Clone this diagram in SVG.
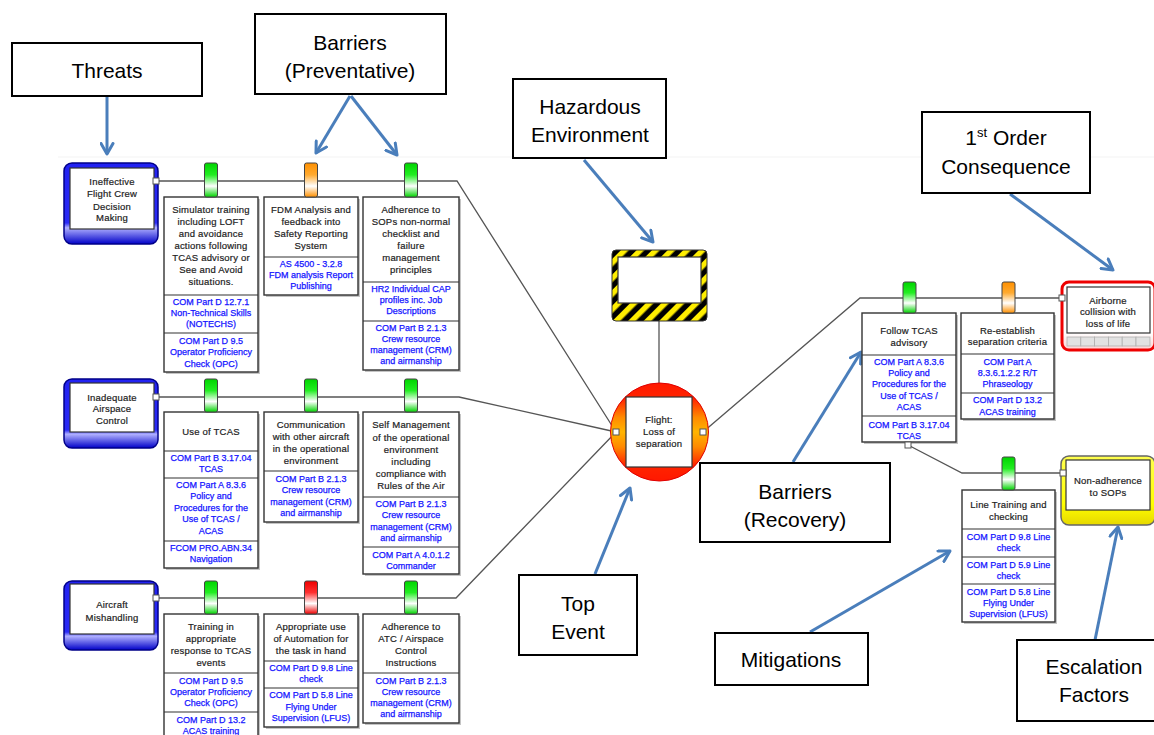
<svg xmlns="http://www.w3.org/2000/svg" width="1154" height="735" viewBox="0 0 1154 735">
<defs>
<style>
.cb{fill:#fff;stroke:#000;stroke-width:2}
.ct{font-family:"Liberation Sans",Arial,sans-serif;font-size:21px;text-anchor:middle;fill:#000}
.ar{stroke:#4a7ebb;stroke-width:3;fill:none;marker-end:url(#ah)}
.bx{fill:#fff;stroke:#333;stroke-width:1.4}
.sh{fill:#c4c4c4}
.dv{stroke:#333;stroke-width:1.2}
.tt{font-family:"Liberation Sans",Arial,sans-serif;font-size:9.5px;text-anchor:middle;fill:#222;stroke:#222;stroke-width:0.2;letter-spacing:0.2px}
.bt{font-family:"Liberation Sans",Arial,sans-serif;font-size:9px;text-anchor:middle;fill:#1414ff;stroke:#1414ff;stroke-width:0.25}
.ln{stroke:#555;stroke-width:1.3;fill:none}
.cn{fill:#fff;stroke:#555;stroke-width:1}
.ind{stroke:#444;stroke-width:1}
.thr{fill:url(#blug);stroke:#000088;stroke-width:1.5}
.inw{fill:#fff;stroke:#333;stroke-width:1.2}
</style>
<marker id="ah" markerUnits="userSpaceOnUse" markerWidth="15" markerHeight="15" viewBox="0 0 10 10" refX="8" refY="5" orient="auto">
<path d="M1,1 L8,5 L1,9" fill="none" stroke="#4a7ebb" stroke-width="2" stroke-linecap="round" stroke-linejoin="round"/>
</marker>
<linearGradient id="gG" x1="0" y1="0" x2="0" y2="1"><stop offset="0" stop-color="#00d400"/><stop offset="0.35" stop-color="#22ee22"/><stop offset="0.68" stop-color="#ffffff"/><stop offset="1" stop-color="#00d400"/></linearGradient>
<linearGradient id="gO" x1="0" y1="0" x2="0" y2="1"><stop offset="0" stop-color="#ff9000"/><stop offset="0.35" stop-color="#ffaa30"/><stop offset="0.68" stop-color="#ffffff"/><stop offset="1" stop-color="#ff9000"/></linearGradient>
<linearGradient id="gR" x1="0" y1="0" x2="0" y2="1"><stop offset="0" stop-color="#ee0000"/><stop offset="0.35" stop-color="#ff3030"/><stop offset="0.68" stop-color="#ffffff"/><stop offset="1" stop-color="#ee0000"/></linearGradient>
<linearGradient id="blug" x1="0" y1="0" x2="0" y2="1"><stop offset="0" stop-color="#2222f2"/><stop offset="0.74" stop-color="#2a2af6"/><stop offset="0.8" stop-color="#b0b0ff"/><stop offset="1" stop-color="#0000c8"/></linearGradient>
<linearGradient id="teg" x1="0" y1="0" x2="0" y2="1"><stop offset="0" stop-color="#ff1800"/><stop offset="0.16" stop-color="#ff2400"/><stop offset="0.35" stop-color="#ff8a00"/><stop offset="0.5" stop-color="#ffb400"/><stop offset="0.65" stop-color="#ff8a00"/><stop offset="0.84" stop-color="#ff2400"/><stop offset="1" stop-color="#ff1800"/></linearGradient>
<linearGradient id="yelg" x1="0" y1="0" x2="0" y2="1"><stop offset="0" stop-color="#ffff50"/><stop offset="0.7" stop-color="#ffff00"/><stop offset="1" stop-color="#e6d800"/></linearGradient>
<linearGradient id="redg" x1="0" y1="0" x2="0" y2="1"><stop offset="0" stop-color="#ffffff"/><stop offset="0.75" stop-color="#ffffff"/><stop offset="1" stop-color="#ffd0d0"/></linearGradient>
<pattern id="haz" patternUnits="userSpaceOnUse" width="11" height="11" patternTransform="rotate(45)"><rect width="11" height="11" fill="#000"/><rect width="5.5" height="11" fill="#ffee00"/></pattern>
</defs>
<rect width="1154" height="735" fill="#fff"/>
<line x1="58" y1="157" x2="1154" y2="157" stroke="#f3f3f3" stroke-width="1"/>

<!-- connectors -->
<g id="connectors">
<path class="ln" d="M158,181 H457 L616,432"/>
<path class="ln" d="M158,397 H459 L616,432"/>
<path class="ln" d="M158,598 H456 L616,432"/>
<path class="ln" d="M703,432 L860,298 H1062"/>
<path class="ln" d="M908,445 L962,473 H1062"/>
<path class="ln" d="M659,321 V384"/>
<path class="ar" d="M107,96 L107,154"/>
<path class="ar" d="M350,96 L316,153"/>
<path class="ar" d="M351,96 L397,155"/>
<path class="ar" d="M584,160 L653,242"/>
<path class="ar" d="M1010,194 L1113,270"/>
<path class="ar" d="M793,462 L861,352"/>
<path class="ar" d="M595,574 L630,488"/>
<path class="ar" d="M810,632 L950,551"/>
<path class="ar" d="M1095,640 L1118,527"/>
</g>

<!-- callouts -->
<g id="callout-threats"><rect class="cb" x="12" y="43" width="190" height="53"/><text class="ct" x="107" y="77.5">Threats</text></g>
<g id="callout-barriers-prev"><rect class="cb" x="255" y="14" width="191" height="80"/><text class="ct" x="350" y="50">Barriers</text><text class="ct" x="350" y="78">(Preventative)</text></g>
<g id="callout-hazard"><rect class="cb" x="513" y="79" width="153" height="79"/><text class="ct" x="590" y="114">Hazardous</text><text class="ct" x="590" y="142">Environment</text></g>
<g id="callout-consequence"><rect class="cb" x="922" y="112" width="168" height="81"/><text class="ct" x="1006" y="145">1<tspan dy="-8" font-size="13">st</tspan><tspan dy="8"> Order</tspan></text><text class="ct" x="1006" y="174">Consequence</text></g>
<g id="callout-barriers-rec"><rect class="cb" x="700" y="463" width="190" height="79"/><text class="ct" x="795" y="499">Barriers</text><text class="ct" x="795" y="527">(Recovery)</text></g>
<g id="callout-top-event"><rect class="cb" x="519" y="575" width="118" height="80"/><text class="ct" x="578" y="611">Top</text><text class="ct" x="578" y="639">Event</text></g>
<g id="callout-mitigations"><rect class="cb" x="715" y="633" width="153" height="52"/><text class="ct" x="791" y="667">Mitigations</text></g>
<g id="callout-escalation"><rect class="cb" x="1017" y="640" width="150" height="81"/><text class="ct" x="1094" y="674">Escalation</text><text class="ct" x="1094" y="702">Factors</text></g>

<!-- threats -->
<g id="threat-1"><rect class="thr" x="64" y="163" width="94" height="81" rx="8"/><rect class="inw" x="70" y="168" width="84" height="61"/>
<text class="tt" x="112" y="185">Ineffective</text><text class="tt" x="112" y="197">Flight Crew</text><text class="tt" x="112" y="209.5">Decision</text><text class="tt" x="112" y="221">Making</text>
<rect class="cn" x="153" y="178" width="6" height="6"/></g>
<g id="threat-2"><rect class="thr" x="64" y="379" width="94" height="69" rx="8"/><rect class="inw" x="70" y="383" width="84" height="49"/>
<text class="tt" x="112" y="401">Inadequate</text><text class="tt" x="112" y="412">Airspace</text><text class="tt" x="112" y="423.5">Control</text>
<rect class="cn" x="153" y="394" width="6" height="6"/></g>
<g id="threat-3"><rect class="thr" x="64" y="581" width="94" height="69" rx="8"/><rect class="inw" x="70" y="584" width="84" height="50"/>
<text class="tt" x="112" y="608">Aircraft</text><text class="tt" x="112" y="621">Mishandling</text>
<rect class="cn" x="153" y="595" width="6" height="6"/></g>

<!-- row 1 barriers -->
<g id="barrier-r1c1"><rect class="sh" x="166" y="199" width="94" height="175"/><rect class="bx" x="164" y="197" width="94" height="175"/>
<line class="dv" x1="164" y1="295" x2="258" y2="295"/><line class="dv" x1="164" y1="333" x2="258" y2="333"/>
<text class="tt" x="211" y="213">Simulator training</text><text class="tt" x="211" y="225">including LOFT</text><text class="tt" x="211" y="237">and avoidance</text><text class="tt" x="211" y="249">actions following</text><text class="tt" x="211" y="261">TCAS advisory or</text><text class="tt" x="211" y="273">See and Avoid</text><text class="tt" x="211" y="285">situations.</text>
<text class="bt" x="211" y="305">COM Part D 12.7.1</text><text class="bt" x="211" y="316">Non-Technical Skills</text><text class="bt" x="211" y="327">(NOTECHS)</text>
<text class="bt" x="211" y="344">COM Part D 9.5</text><text class="bt" x="211" y="355">Operator Proficiency</text><text class="bt" x="211" y="367">Check (OPC)</text>
<rect class="ind" x="204.5" y="163" width="13" height="34" rx="2" fill="url(#gG)"/></g>
<g id="barrier-r1c2"><rect class="sh" x="266" y="199" width="94" height="98"/><rect class="bx" x="264" y="197" width="94" height="98"/>
<line class="dv" x1="264" y1="257" x2="358" y2="257"/>
<text class="tt" x="311" y="213">FDM Analysis and</text><text class="tt" x="311" y="225">feedback into</text><text class="tt" x="311" y="237">Safety Reporting</text><text class="tt" x="311" y="249">System</text>
<text class="bt" x="311" y="267">AS 4500 - 3.2.8</text><text class="bt" x="311" y="278">FDM analysis Report</text><text class="bt" x="311" y="289">Publishing</text>
<rect class="ind" x="304.5" y="163" width="13" height="34" rx="2" fill="url(#gO)"/></g>
<g id="barrier-r1c3"><rect class="sh" x="365" y="199" width="96" height="173"/><rect class="bx" x="363" y="197" width="96" height="173"/>
<line class="dv" x1="363" y1="282" x2="459" y2="282"/><line class="dv" x1="363" y1="321" x2="459" y2="321"/>
<text class="tt" x="411" y="213">Adherence to</text><text class="tt" x="411" y="225">SOPs non-normal</text><text class="tt" x="411" y="237">checklist and</text><text class="tt" x="411" y="249">failure</text><text class="tt" x="411" y="261">management</text><text class="tt" x="411" y="273">principles</text>
<text class="bt" x="411" y="292">HR2 Individual CAP</text><text class="bt" x="411" y="303">profiles inc. Job</text><text class="bt" x="411" y="314">Descriptions</text>
<text class="bt" x="411" y="331">COM Part B 2.1.3</text><text class="bt" x="411" y="342">Crew resource</text><text class="bt" x="411" y="353">management (CRM)</text><text class="bt" x="411" y="364">and airmanship</text>
<rect class="ind" x="404.5" y="163" width="13" height="34" rx="2" fill="url(#gG)"/></g>

<!-- row 2 barriers -->
<g id="barrier-r2c1"><rect class="sh" x="166" y="414" width="94" height="156"/><rect class="bx" x="164" y="412" width="94" height="156"/>
<line class="dv" x1="164" y1="451" x2="258" y2="451"/><line class="dv" x1="164" y1="478" x2="258" y2="478"/><line class="dv" x1="164" y1="541" x2="258" y2="541"/>
<text class="tt" x="211" y="435">Use of TCAS</text>
<text class="bt" x="211" y="461">COM Part B 3.17.04</text><text class="bt" x="211" y="472">TCAS</text>
<text class="bt" x="211" y="488">COM Part A 8.3.6</text><text class="bt" x="211" y="499">Policy and</text><text class="bt" x="211" y="510.5">Procedures for the</text><text class="bt" x="211" y="522">Use of TCAS /</text><text class="bt" x="211" y="533.5">ACAS</text>
<text class="bt" x="211" y="551">FCOM PRO.ABN.34</text><text class="bt" x="211" y="562">Navigation</text>
<rect class="ind" x="204.5" y="379" width="13" height="33" rx="2" fill="url(#gG)"/></g>
<g id="barrier-r2c2"><rect class="sh" x="266" y="414" width="94" height="110"/><rect class="bx" x="264" y="412" width="94" height="110"/>
<line class="dv" x1="264" y1="471" x2="358" y2="471"/>
<text class="tt" x="311" y="428">Communication</text><text class="tt" x="311" y="440">with other aircraft</text><text class="tt" x="311" y="452">in the operational</text><text class="tt" x="311" y="464">environment</text>
<text class="bt" x="311" y="482">COM Part B 2.1.3</text><text class="bt" x="311" y="493">Crew resource</text><text class="bt" x="311" y="505">management (CRM)</text><text class="bt" x="311" y="516">and airmanship</text>
<rect class="ind" x="304.5" y="379" width="13" height="33" rx="2" fill="url(#gG)"/></g>
<g id="barrier-r2c3"><rect class="sh" x="365" y="414" width="96" height="162"/><rect class="bx" x="363" y="412" width="96" height="162"/>
<line class="dv" x1="363" y1="497" x2="459" y2="497"/><line class="dv" x1="363" y1="547" x2="459" y2="547"/>
<text class="tt" x="411" y="428">Self Management</text><text class="tt" x="411" y="441">of the operational</text><text class="tt" x="411" y="453">environment</text><text class="tt" x="411" y="465">including</text><text class="tt" x="411" y="477">compliance with</text><text class="tt" x="411" y="489">Rules of the Air</text>
<text class="bt" x="411" y="507">COM Part B 2.1.3</text><text class="bt" x="411" y="518">Crew resource</text><text class="bt" x="411" y="530">management (CRM)</text><text class="bt" x="411" y="541">and airmanship</text>
<text class="bt" x="411" y="558">COM Part A 4.0.1.2</text><text class="bt" x="411" y="569">Commander</text>
<rect class="ind" x="404.5" y="379" width="13" height="33" rx="2" fill="url(#gG)"/></g>

<!-- row 3 barriers -->
<g id="barrier-r3c1"><rect class="sh" x="166" y="616" width="94" height="130"/><rect class="bx" x="164" y="614" width="94" height="130"/>
<line class="dv" x1="164" y1="673" x2="258" y2="673"/><line class="dv" x1="164" y1="712" x2="258" y2="712"/>
<text class="tt" x="211" y="630">Training in</text><text class="tt" x="211" y="642">appropriate</text><text class="tt" x="211" y="654">response to TCAS</text><text class="tt" x="211" y="666">events</text>
<text class="bt" x="211" y="684">COM Part D 9.5</text><text class="bt" x="211" y="695">Operator Proficiency</text><text class="bt" x="211" y="706">Check (OPC)</text>
<text class="bt" x="211" y="723">COM Part D 13.2</text><text class="bt" x="211" y="734">ACAS training</text>
<rect class="ind" x="204.5" y="581" width="13" height="33" rx="2" fill="url(#gG)"/></g>
<g id="barrier-r3c2"><rect class="sh" x="266" y="616" width="94" height="113"/><rect class="bx" x="264" y="614" width="94" height="113"/>
<line class="dv" x1="264" y1="661" x2="358" y2="661"/><line class="dv" x1="264" y1="688" x2="358" y2="688"/>
<text class="tt" x="311" y="630">Appropriate use</text><text class="tt" x="311" y="642">of Automation for</text><text class="tt" x="311" y="654">the task in hand</text>
<text class="bt" x="311" y="671">COM Part D 9.8 Line</text><text class="bt" x="311" y="682">check</text>
<text class="bt" x="311" y="698">COM Part D 5.8 Line</text><text class="bt" x="311" y="709.5">Flying Under</text><text class="bt" x="311" y="721">Supervision (LFUS)</text>
<rect class="ind" x="304.5" y="581" width="13" height="33" rx="2" fill="url(#gR)"/></g>
<g id="barrier-r3c3"><rect class="sh" x="365" y="616" width="96" height="109"/><rect class="bx" x="363" y="614" width="96" height="109"/>
<line class="dv" x1="363" y1="673" x2="459" y2="673"/>
<text class="tt" x="411" y="630">Adherence to</text><text class="tt" x="411" y="642">ATC / Airspace</text><text class="tt" x="411" y="654">Control</text><text class="tt" x="411" y="666">Instructions</text>
<text class="bt" x="411" y="684">COM Part B 2.1.3</text><text class="bt" x="411" y="695">Crew resource</text><text class="bt" x="411" y="706">management (CRM)</text><text class="bt" x="411" y="717">and airmanship</text>
<rect class="ind" x="404.5" y="581" width="13" height="33" rx="2" fill="url(#gG)"/></g>

<!-- hazard -->
<g id="hazard"><rect x="612" y="250" width="95" height="71" rx="4" fill="url(#haz)" stroke="#333" stroke-width="1"/><rect class="inw" x="618" y="257" width="83" height="46"/></g>

<!-- top event -->
<g id="top-event"><circle cx="659.5" cy="432" r="49" fill="url(#teg)" stroke="#e00000" stroke-width="1"/><rect class="inw" x="626" y="397" width="66" height="70"/>
<text class="tt" x="659" y="423">Flight:</text><text class="tt" x="659" y="435">Loss of</text><text class="tt" x="659" y="447">separation</text>
<rect class="cn" x="613" y="429" width="6" height="6"/><rect class="cn" x="700" y="429" width="6" height="6"/></g>

<!-- recovery barriers -->
<g id="barrier-follow-tcas"><rect class="sh" x="864" y="315" width="94" height="129"/><rect class="bx" x="862" y="313" width="94" height="129"/>
<line class="dv" x1="862" y1="355" x2="956" y2="355"/><line class="dv" x1="862" y1="416" x2="956" y2="416"/>
<text class="tt" x="909" y="333.5">Follow TCAS</text><text class="tt" x="909" y="345.5">advisory</text>
<text class="bt" x="909" y="364.5">COM Part A 8.3.6</text><text class="bt" x="909" y="375.5">Policy and</text><text class="bt" x="909" y="387">Procedures for the</text><text class="bt" x="909" y="398.5">Use of TCAS /</text><text class="bt" x="909" y="410">ACAS</text>
<text class="bt" x="909" y="428">COM Part B 3.17.04</text><text class="bt" x="909" y="438.5">TCAS</text>
<rect class="ind" x="903" y="282" width="13" height="31" rx="2" fill="url(#gG)"/>
<rect class="cn" x="905" y="442" width="6" height="6"/></g>
<g id="barrier-reestablish"><rect class="sh" x="963" y="315" width="93" height="106"/><rect class="bx" x="961" y="313" width="93" height="106"/>
<line class="dv" x1="961" y1="354" x2="1054" y2="354"/><line class="dv" x1="961" y1="393" x2="1054" y2="393"/>
<text class="tt" x="1007.5" y="333.5">Re-establish</text><text class="tt" x="1007.5" y="345">separation criteria</text>
<text class="bt" x="1007.5" y="364.5">COM Part A</text><text class="bt" x="1007.5" y="375.5">8.3.6.1.2.2 R/T</text><text class="bt" x="1007.5" y="387">Phraseology</text>
<text class="bt" x="1007.5" y="403">COM Part D 13.2</text><text class="bt" x="1007.5" y="415">ACAS training</text>
<rect class="ind" x="1002" y="282" width="13" height="31" rx="2" fill="url(#gO)"/></g>
<g id="barrier-line-training"><rect class="sh" x="964" y="492" width="93" height="132"/><rect class="bx" x="962" y="490" width="93" height="132"/>
<line class="dv" x1="962" y1="529" x2="1055" y2="529"/><line class="dv" x1="962" y1="557" x2="1055" y2="557"/><line class="dv" x1="962" y1="584" x2="1055" y2="584"/>
<text class="tt" x="1008.5" y="507.5">Line Training and</text><text class="tt" x="1008.5" y="519.5">checking</text>
<text class="bt" x="1008.5" y="540">COM Part D 9.8 Line</text><text class="bt" x="1008.5" y="551">check</text>
<text class="bt" x="1008.5" y="567.5">COM Part D 5.9 Line</text><text class="bt" x="1008.5" y="578.5">check</text>
<text class="bt" x="1008.5" y="594.5">COM Part D 5.8 Line</text><text class="bt" x="1008.5" y="605.5">Flying Under</text><text class="bt" x="1008.5" y="617">Supervision (LFUS)</text>
<rect class="ind" x="1002" y="457" width="13" height="33" rx="2" fill="url(#gG)"/></g>

<!-- consequence -->
<g id="consequence"><rect x="1062" y="282" width="93" height="68" rx="7" fill="url(#redg)" stroke="#ee0000" stroke-width="3"/><rect class="inw" x="1067" y="287" width="83" height="46"/>
<g fill="#e2e2e2" stroke="#b0b0b0" stroke-width="0.8"><rect x="1067" y="337" width="13.8" height="9"/><rect x="1080.8" y="337" width="13.8" height="9"/><rect x="1094.6" y="337" width="13.8" height="9"/><rect x="1108.4" y="337" width="13.8" height="9"/><rect x="1122.2" y="337" width="13.8" height="9"/><rect x="1136" y="337" width="14" height="9"/></g>
<text class="tt" x="1108" y="303.5">Airborne</text><text class="tt" x="1108" y="315">collision with</text><text class="tt" x="1108" y="326.5">loss of life</text>
<rect class="cn" x="1059" y="295" width="6" height="6"/></g>

<!-- escalation factor -->
<g id="escalation-factor"><rect x="1061" y="456" width="94" height="69" rx="8" fill="url(#yelg)" stroke="#666" stroke-width="1.5"/><rect class="inw" x="1066" y="460" width="84" height="50"/>
<text class="tt" x="1108" y="484">Non-adherence</text><text class="tt" x="1108" y="496">to SOPs</text>
<rect class="cn" x="1060" y="470" width="6" height="6"/></g>
</svg>
